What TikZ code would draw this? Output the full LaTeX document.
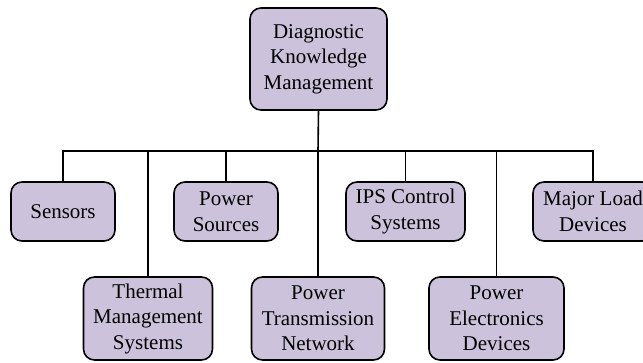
\documentclass[tikz,border=0pt]{standalone}
\usepackage{fontspec}
\setmainfont{Liberation Serif}
\definecolor{boxfill}{RGB}{205,194,220}
\tikzset{
  kbox/.style={draw, rounded corners=11pt, fill=boxfill, line width=1.6pt,
    align=center, inner sep=0pt,
    font=\fontsize{21}{25.5}\selectfont},
  link/.style={line width=1.6pt}
}
\begin{document}
\begin{tikzpicture}[x=1pt,y=-1pt]
  \clip (0,0) rectangle (643,362);

  \begin{scope}[every node/.style={kbox}]
    \node[minimum width=137pt, minimum height=102pt] (dkm)     at (318.5,59)  {Diagnostic\\Knowledge\\Management};
    \node[minimum width=104pt, minimum height=59pt]  (sensors) at (63,211.5)  {Sensors};
    \node[minimum width=104pt, minimum height=59pt]  (psrc)    at (226,211.5) {Power\\Sources};
    \node[minimum width=119pt, minimum height=59pt]  (ips)     at (405.5,211.5) {IPS Control\\Systems};
    \node[minimum width=120pt, minimum height=59pt]  (load)    at (593,211.5) {Major Load\\Devices};
    \node[minimum width=129pt, minimum height=83pt]  (thermal) at (148,318.5) {Thermal\\Management\\Systems};
    \node[minimum width=133pt, minimum height=83pt]  (ptn)     at (318,318.5) {Power\\Transmission\\Network};
    \node[minimum width=135pt, minimum height=83pt]  (pel)     at (496.5,318.5) {Power\\Electronics\\Devices};
  \end{scope}

  \coordinate (hub) at (318,151);

  \begin{scope}[every path/.style={link}]
    \draw (dkm.south) -- (hub);
    \draw (hub) -| (sensors.north);
    \draw (hub) -| (thermal.north);
    \draw (hub) -| (psrc.north);
    \draw (hub) -- (ptn.north);
    \draw (hub) -| (ips.north);
    \draw (hub) -| (pel.north);
    \draw (hub) -| (load.north);
  \end{scope}

\end{tikzpicture}
\end{document}
